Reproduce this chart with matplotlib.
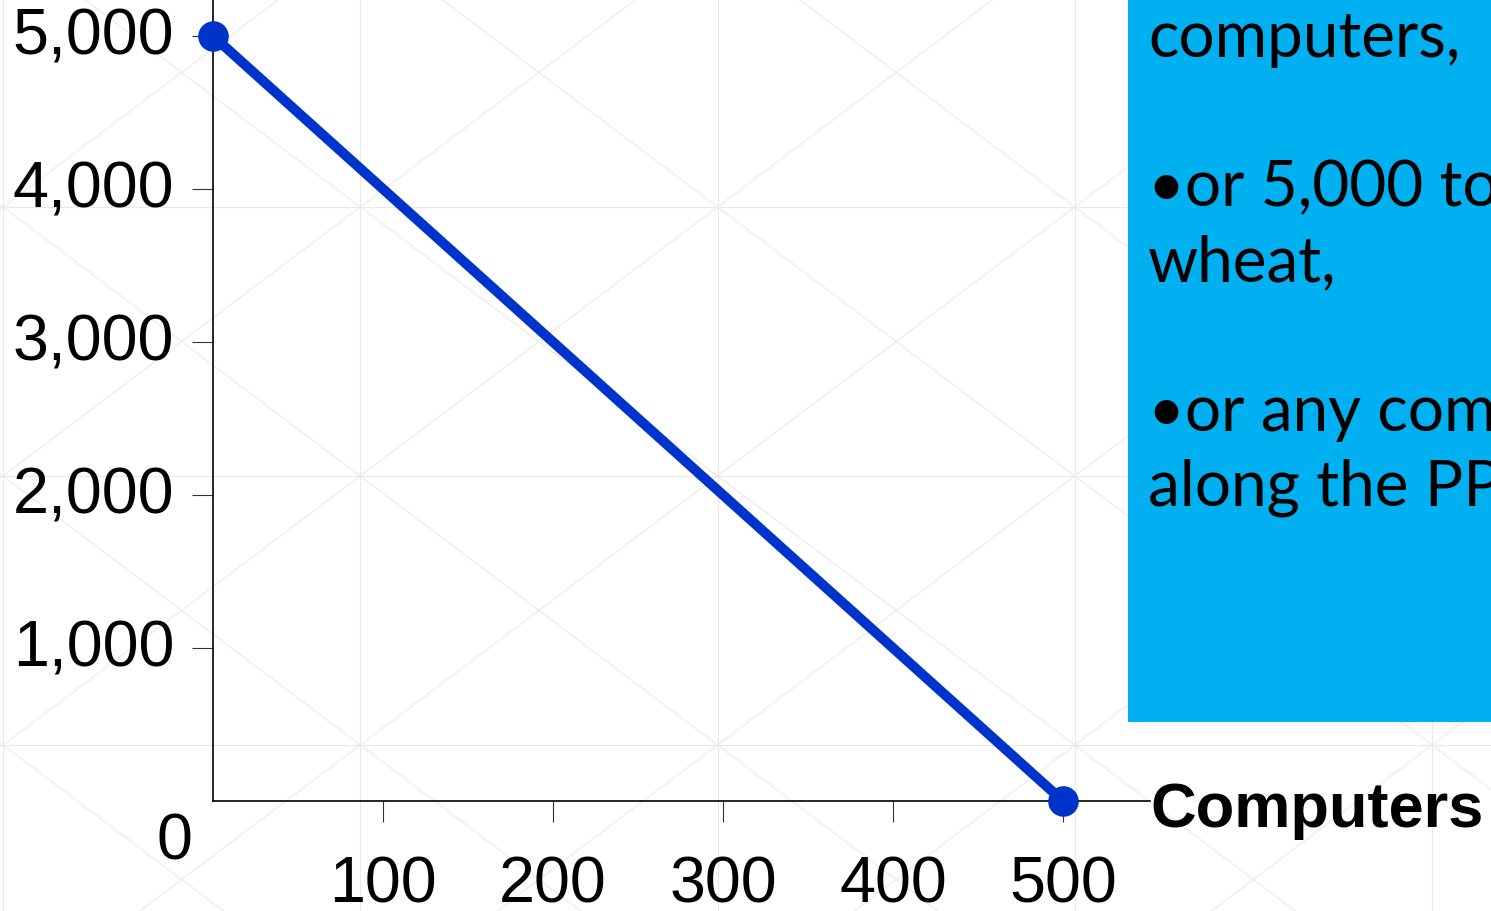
import numpy as np
import matplotlib
matplotlib.use('Agg')
import matplotlib.pyplot as plt
from matplotlib.transforms import ScaledTranslation

# production possibilities frontier: all computers or all wheat
computers = [0, 500]
wheat = [5000, 0]
x_ticks = [100, 200, 300, 400, 500]
y_ticks = [1000, 2000, 3000, 4000, 5000]
y_tick_labels = ['1,000', '2,000', '3,000', '4,000', '5,000']

box_lines = ['computers,', '', '\u2022or 5,000 tons of', 'wheat,', '',
             '\u2022or any combination', 'along the PPF']

W, H = 1491, 911
fig = plt.figure(figsize=(W / 100, H / 100), dpi=100)
fig.patch.set_facecolor('white')

# faint lattice in the slide background
bg = fig.add_axes([0, 0, 1, 1], zorder=0)
bg.set_xlim(0, W)
bg.set_ylim(H, 0)
bg.axis('off')
gx = np.arange(-354.25, W + 400, 357.25)
gy = np.arange(-62, H + 300, 269)
grid_col = '#e9e9e9'
for x in gx:
    bg.plot([x, x], [gy[0], gy[-1]], color=grid_col, lw=0.8)
for y in gy:
    bg.plot([gx[0], gx[-1]], [y, y], color=grid_col, lw=0.8)
for i in range(len(gx) - 1):
    for j in range(len(gy) - 1):
        bg.plot([gx[i], gx[i + 1]], [gy[j], gy[j + 1]], color=grid_col, lw=0.8)
        bg.plot([gx[i], gx[i + 1]], [gy[j + 1], gy[j]], color=grid_col, lw=0.8)

# blue text box on the right
bg.add_patch(plt.Rectangle((1128, -5), 400, 727, facecolor='#00B0F0',
                           edgecolor='none', zorder=3))
for k, line in enumerate(box_lines):
    bg.text(1148, 57 + 74.7 * k, line, fontsize=46, family='Lato',
            color='black', va='baseline', ha='left', zorder=4)

# main chart
ax = fig.add_axes([213 / W, (H - 801) / H, (1150 - 213) / W, 801 / H], zorder=2)
ax.patch.set_alpha(0)
ax.plot(computers, wheat, color='#0033CC', lw=7.2, marker='o', markersize=21,
        solid_capstyle='round', clip_on=False, zorder=5)
ax.set_xlim(0, (1150 - 213) / 1.7)
ax.set_ylim(0, 5000 + 36 / 0.153)

for side in ['top', 'right']:
    ax.spines[side].set_visible(False)
for side in ['left', 'bottom']:
    ax.spines[side].set_linewidth(1.2)
    ax.spines[side].set_color('black')

ax.set_xticks(x_ticks)
ax.set_xticklabels([str(v) for v in x_ticks])
ax.set_yticks(y_ticks)
ax.set_yticklabels(y_tick_labels)
ax.tick_params(axis='both', direction='out', length=15, width=0.8,
               color='#333333', labelsize=46.5)
ax.tick_params(axis='x', pad=24)
ax.tick_params(axis='y', pad=13)
shift_up = ScaledTranslation(0, 5 / 100, fig.dpi_scale_trans)
for lab in ax.get_xticklabels() + ax.get_yticklabels():
    lab.set_family('Liberation Sans')
for lab in ax.get_yticklabels():
    lab.set_transform(lab.get_transform() + shift_up)

ax.annotate('0', xy=(0, 0), xytext=(-27.5, -30), textcoords='offset points',
            fontsize=46.5, family='Liberation Sans', ha='center', va='center',
            annotation_clip=False)

fig.text(1150 / W, 1 - 827 / H, 'Computers', fontsize=45.5, fontweight='bold',
         family='Liberation Sans', va='baseline', ha='left', zorder=6)

fig.savefig('out.png', dpi=100)
